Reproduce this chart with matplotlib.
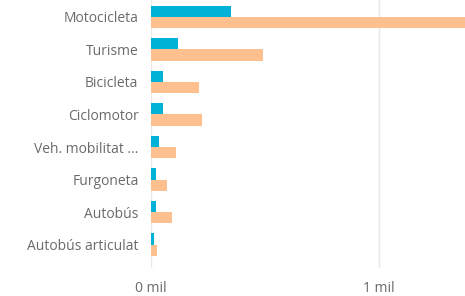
import matplotlib
matplotlib.use("Agg")
import matplotlib.pyplot as plt
import numpy as np

categories = ["Motocicleta", "Turisme", "Bicicleta", "Ciclomotor",
              "Veh. mobilitat ...", "Furgoneta", "Autobús", "Autobús articulat"]
series_a = [351, 117, 52, 52, 36, 23, 20, 12]
series_b = [1500, 489, 211, 222, 109, 72, 91, 25]
x_ticks = [0, 1000]
x_tick_labels = ["0 mil", "1 mil"]

CYAN, PEACH = "#00B3D6", "#FFC08F"
TEXT = "#6a6a6a"

fig = plt.figure(figsize=(4.65, 2.96), dpi=100)
ax = fig.add_axes([151 / 465, 28 / 296, 314 / 465, 268 / 296])

y = np.arange(len(categories))
h = 0.35
ax.barh(y - h / 2, series_a, height=h, color=CYAN)
ax.barh(y + h / 2, series_b, height=h, color=PEACH)

ax.set_xlim(0, 1377)
ax.set_ylim(7.72, -0.52)
for t in x_ticks:
    ax.axvline(t, color="#e8e8e8", lw=1, zorder=0)

ax.set_yticks(y)
ax.set_yticklabels(categories, fontsize=10, color=TEXT, family="Open Sans")
ax.set_xticks(x_ticks)
ax.set_xticklabels(x_tick_labels, fontsize=10, color=TEXT, family="Open Sans")
ax.tick_params(length=0)
ax.tick_params(axis="y", pad=9)
ax.tick_params(axis="x", pad=9)
for s in ax.spines.values():
    s.set_visible(False)

fig.savefig("out.png", dpi=100)
